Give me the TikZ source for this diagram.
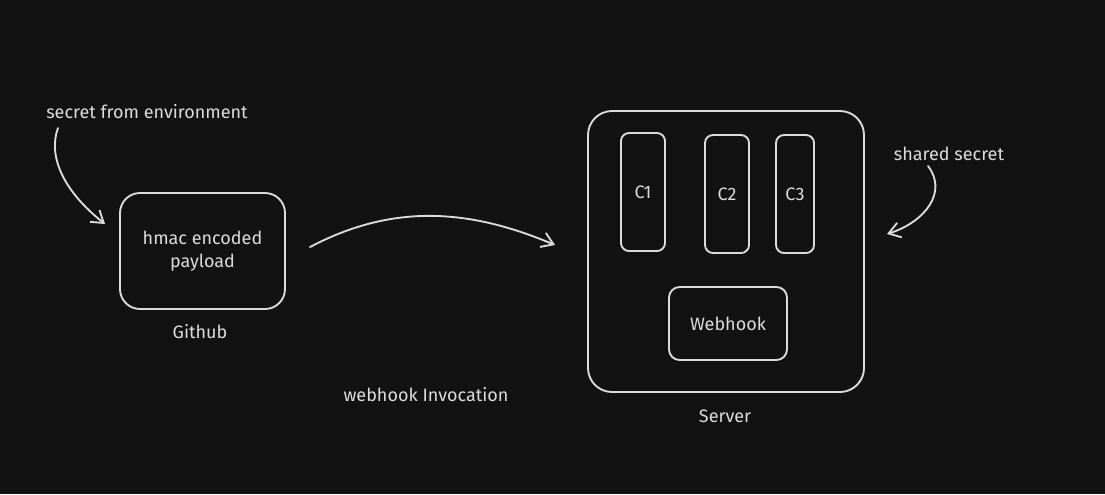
\documentclass[tikz,border=0pt]{standalone}
\usepackage{fontspec}
\setmainfont{Fira Sans}
\usetikzlibrary{positioning,arrows.meta}
\definecolor{skbg}{HTML}{121212}
\definecolor{skink}{HTML}{DCDCDC}
\tikzset{
  box/.style ={rounded corners=15pt,draw=skink,line width=1.4pt,align=center,inner sep=0pt,outer sep=0pt,text=skink,font=\fontsize{13.5}{17}\selectfont},
  slot/.style={box,rounded corners=6pt},
  lbl/.style ={text=skink,font=\fontsize{13.5}{17}\selectfont,inner sep=0pt},
  arr/.style ={-{Straight Barb[length=3mm,width=4mm]},line width=1.4pt,draw=skink,line cap=round},
}
\begin{document}
\begin{tikzpicture}[x=0.75pt,y=-0.75pt]
  \fill[skbg] (0,0) rectangle (1105,494);
  \useasboundingbox (0,0) rectangle (1105,494);

  % left side
  \node[box, minimum width=123.75pt, minimum height=87pt] (gh) at (202.5,251) {hmac encoded\\payload};
  \node[lbl] (ghlbl) at (200,332) {Github};
  \node[lbl] (envlbl) at (147,112) {secret from environment};
  \coordinate (envstart) at (58,128);
  \coordinate (envend) at (105,224);

  % right side
  \node[box, rounded corners=18pt, minimum width=207pt, minimum height=210.75pt] (srv) at (726,251.5) {};
  \node[slot, minimum width=33pt, minimum height=88.5pt] (c1) at (643,192) {C1};
  \node[slot, minimum width=33pt, minimum height=88.5pt] (c2) at (727,194) {C2};
  \node[slot, minimum width=28.5pt, minimum height=88.5pt] (c3) at (795,194) {C3};
  \node[box, rounded corners=8pt, minimum width=88.5pt, minimum height=54.75pt] (hook) at (728,323.5) {Webhook};
  \node[lbl] (srvlbl) at (725,416) {Server};
  \node[lbl] (shlbl) at (949,154) {shared secret};
  \coordinate (shstart) at (928,166);
  \coordinate (shend) at (887,234);

  % invocation
  \coordinate (ghout) at (310,247);
  \coordinate (srvin) at (555,245);
  \node[lbl] (invlbl) at (426,395) {webhook Invocation};

  \draw[arr] (envstart) .. controls (48,155) and (62,190) .. (envend);
  \draw[arr] (ghout) .. controls (390,205) and (465,207) .. (srvin);
  \draw[arr] (shstart) .. controls (948,192) and (925,222) .. (shend);
\end{tikzpicture}
\end{document}
